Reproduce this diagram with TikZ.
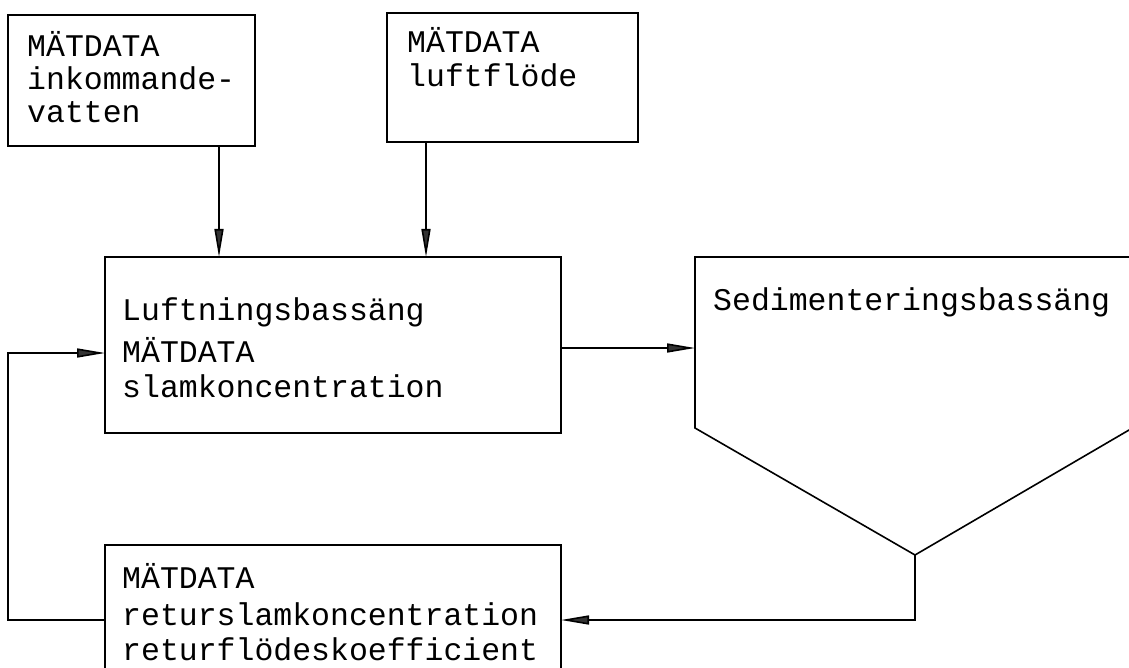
\documentclass[tikz,border=0pt]{standalone}
\usepackage{fontspec}
\setmonofont{Liberation Mono}
\usetikzlibrary{arrows.meta}
\begin{document}
\begin{tikzpicture}[x=1pt,y=-1pt,
  box/.style={draw,line width=1.6pt,inner sep=0pt,outer sep=0pt},
  ln/.style={line width=1.6pt,line join=miter},
  arr/.style={line width=1.6pt,-{Triangle[length=28pt,width=9pt,fill=black!80]}},
  txt/.style={anchor=base west,inner sep=0pt,font=\ttfamily\fontsize{31.5}{34}\selectfont}]
\useasboundingbox (0,0) rectangle (1129,668);
\clip (0,0) rectangle (1129,668);
% boxes
\node[box,minimum width=247pt,minimum height=131pt] (b1) at (131.5,80.5) {};
\node[box,minimum width=251pt,minimum height=129pt] (b2) at (512.5,77.5) {};
\node[box,minimum width=456pt,minimum height=176pt] (b3) at (333,345) {};
\node[box,minimum width=456pt,minimum height=150pt] (b5) at (333,620) {};
% sedimentation basin
\coordinate (stl) at (695,257);
\coordinate (sbl) at (695,428);
\coordinate (sap) at (915,555);
\draw[ln] (1140,257) -- (stl) -- (sbl) -- (sap) -- (1140,423.6);
% texts
\node[txt] (t1a) at (27,57) {MÄTDATA};
\node[txt] (t1b) at (27,90) {inkommande-};
\node[txt] (t1c) at (27,123) {vatten};
\node[txt] (t2a) at (407,53) {MÄTDATA};
\node[txt] (t2b) at (407,87) {luftflöde};
\node[txt] (t3a) at (122,320) {Luftningsbassäng};
\node[txt] (t3b) at (122,362) {MÄTDATA};
\node[txt] (t3c) at (122,397) {slamkoncentration};
\node[txt] (t4a) at (713,310) {Sedimenteringsbassäng};
\node[txt] (t5a) at (122,588) {MÄTDATA};
\node[txt] (t5b) at (122,625) {returslamkoncentration};
\node[txt] (t5c) at (122,660) {returflödeskoefficient};
% connectors
\draw[arr] ([xshift=-36pt]b1.south east) -- ([xshift=-36pt]b1.south east |- b3.north);
\draw[arr] ([xshift=39pt]b2.south west) -- ([xshift=39pt]b2.south west |- b3.north);
\draw[arr] ([yshift=-3pt]b3.east) -- ([yshift=-3pt]b3.east -| stl);
\draw[arr] (sap) |- (b5.east);
\draw[arr] (b5.west) -- ++(-97,0) |- ([yshift=-8pt]b3.west);
\end{tikzpicture}
\end{document}
